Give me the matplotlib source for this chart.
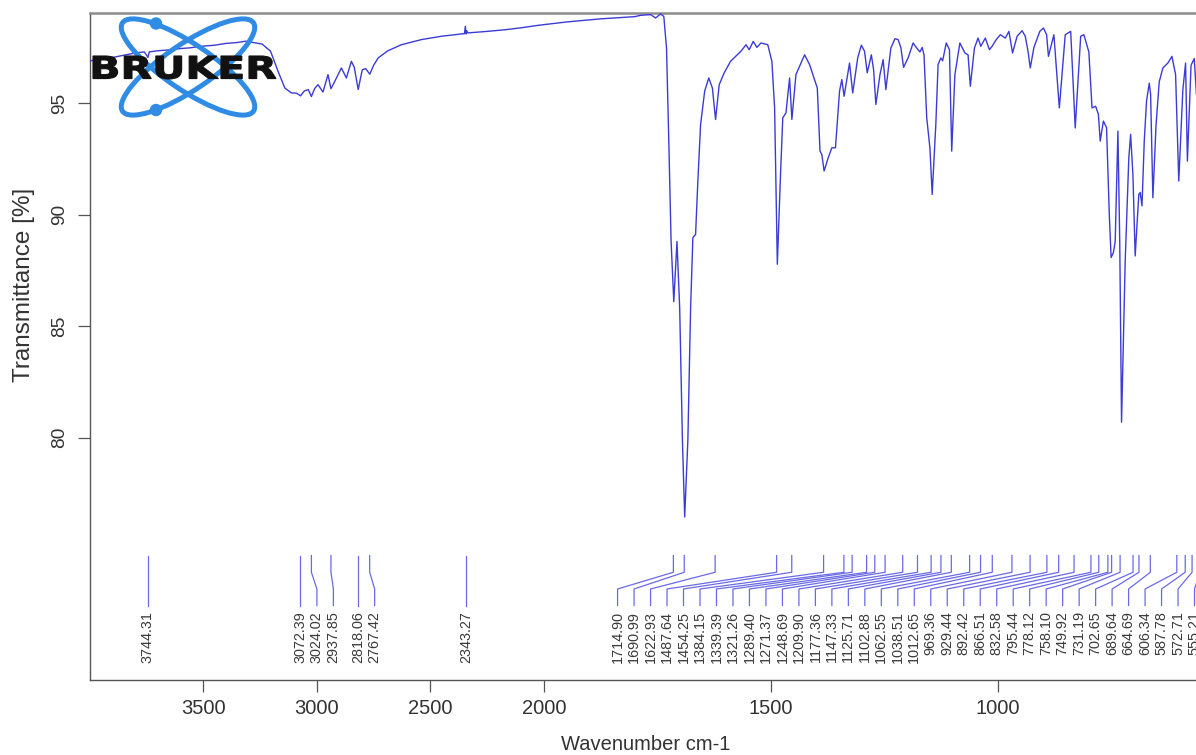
import numpy as np
import matplotlib
matplotlib.use('Agg')
import matplotlib.pyplot as plt
from matplotlib.patches import Ellipse, Circle, PathPatch
from matplotlib.textpath import TextPath
from matplotlib.font_manager import FontProperties
import matplotlib.transforms as mtransforms

plt.rcParams['font.family'] = ['Liberation Sans', 'DejaVu Sans']

#spectrum (wavenumber cm-1, transmittance %)
wavenumber = [4000, 3960, 3900, 3850, 3800, 3760, 3750, 3744, 3738, 3700, 3640, 3600, 3560, 3510,
              3450, 3400, 3350, 3314, 3280, 3241, 3204, 3171, 3141, 3112, 3090, 3072, 3055, 3038,
              3024, 3010, 2995, 2973, 2951, 2938, 2920, 2892, 2870, 2848, 2835, 2818, 2800, 2785,
              2767, 2750, 2730, 2687, 2628, 2540, 2452, 2364, 2350, 2346, 2343, 2340, 2335, 2250,
              2174, 2100, 2026, 1951, 1876, 1800, 1787, 1765, 1754, 1743, 1736,
              1730, 1725, 1720, 1714, 1707, 1701, 1695, 1690, 1683, 1677, 1672, 1666, 1661, 1655,
              1646, 1637, 1629, 1622, 1614, 1603, 1589, 1566, 1555, 1548, 1539, 1531, 1522, 1507,
              1498, 1492, 1486, 1479, 1474, 1467, 1459, 1454, 1445, 1426, 1415, 1404, 1398, 1392,
              1388, 1383, 1374, 1366, 1358, 1349, 1344, 1339, 1327, 1320, 1309, 1301, 1294, 1288,
              1279, 1274, 1269, 1260, 1253, 1247, 1236, 1227, 1220, 1214, 1208, 1198, 1187, 1179,
              1172, 1167, 1163, 1157, 1150, 1145, 1137, 1132, 1126, 1122, 1114, 1107, 1102, 1095,
              1084, 1073, 1066, 1061, 1052, 1044, 1038, 1028, 1019, 1013, 1004, 995, 984, 976,
              968, 958, 947, 940, 934, 929, 921, 908, 900, 893, 889, 877, 865, 852, 840, 830, 818,
              811, 800, 793, 785, 779, 775, 768, 761, 755, 751, 746, 742, 736, 732, 728, 720, 712,
              708, 703, 698, 690, 687, 683, 678, 673, 667, 664, 659, 652, 645, 637, 626, 617, 609,
              602, 593, 587, 583, 575, 568, 563, 558, 540, 500, 400]
transmittance = [96.9, 96.95, 97.05, 97.15, 97.25, 97.3, 97.15, 97.05, 97.3, 97.35, 97.4, 97.45, 97.48, 97.55,
                 97.6, 97.68, 97.72, 97.78, 97.72, 97.65, 97.33, 96.43, 95.68, 95.46, 95.45, 95.33, 95.55, 95.61,
                 95.3, 95.65, 95.83, 95.5, 96.28, 95.65, 96.0, 96.58, 96.13, 96.88, 96.6, 95.61, 96.5, 96.55,
                 96.3, 96.7, 97.03, 97.35, 97.62, 97.85, 98.0, 98.1, 98.12, 98.45, 98.1, 98.25, 98.15, 98.22,
                 98.29, 98.38, 98.49, 98.64, 98.78, 98.88, 98.94, 98.97, 98.82, 99.0, 98.89,
                 97.47, 93.3, 88.83, 86.1, 88.8, 85.8, 79.9, 76.45, 79.9, 85.8, 88.97, 89.12, 91.51, 94.04,
                 95.54, 96.13, 95.68, 94.27, 95.83, 96.36, 96.88, 97.33, 97.62, 97.4, 97.77, 97.5, 97.7, 97.62,
                 96.88, 94.79, 87.78, 91.8, 94.34, 94.57, 96.13, 94.27, 96.28, 97.17, 96.73, 96.06, 95.68, 92.85,
                 92.7, 91.96, 92.55, 93.0, 93.0, 95.54, 96.06, 95.31, 96.8, 95.46, 97.03, 97.6, 97.33, 96.36,
                 97.17, 96.5, 94.94, 96.28, 96.95, 95.61, 97.47, 97.89, 97.85, 97.5, 96.61, 97.03, 97.7, 97.47,
                 97.3, 97.5, 97.17, 94.34, 93.0, 90.91, 94.04, 96.73, 97.03, 96.9, 97.7, 97.4, 92.85, 96.28,
                 97.7, 97.25, 97.17, 95.76, 97.47, 97.92, 97.55, 97.92, 97.4, 97.55, 97.85, 98.07, 97.92, 98.22,
                 97.25, 98.0, 98.25, 98.0, 97.33, 96.58, 97.5, 98.22, 98.37, 98.07, 97.1, 98.07, 94.79, 98.07,
                 98.22, 93.89, 98.0, 98.07, 97.3, 94.79, 94.86, 94.5, 93.3, 94.2, 93.9, 90.02, 88.08, 88.3,
                 88.8, 93.75, 88.8, 80.7, 87.9, 92.55, 93.6, 91.8, 88.15, 90.91, 91.0, 90.4, 93.3, 95.09,
                 95.9, 95.4, 90.76, 94.04, 95.96, 96.58, 96.8, 97.1, 96.28, 91.51, 95.6, 96.8, 92.4, 96.7,
                 97.0, 95.4, 97.0, 96.5, 96.0, 95.5]

#picked peaks as printed under the spectrum
peaks = [3744.31, 3072.39, 3024.02, 2937.85, 2818.06, 2767.42, 2343.27,
         1714.90, 1690.99, 1622.93, 1487.64, 1454.25, 1384.15, 1339.39, 1321.26, 1289.40,
         1271.37, 1248.69, 1209.90, 1177.36, 1147.33, 1125.71, 1102.88, 1062.55, 1038.51,
         1012.65, 969.36, 929.44, 892.42, 866.51, 832.58, 795.44, 778.12, 758.10, 749.92,
         731.19, 702.65, 689.64, 664.69, 606.34, 587.78, 572.71, 555.21]

xticks = [3500, 3000, 2500, 2000, 1500, 1000]
yticks = [80, 85, 90, 95]


#OPUS squeezes everything above 2000 cm-1 by a factor 2
def fwd(w):
    w = np.asarray(w, dtype=float)
    return np.where(w > 2000, 2000 + (w - 2000) / 2.0, w)

def inv(s):
    s = np.asarray(s, dtype=float)
    return np.where(s > 2000, 2000 + (s - 2000) * 2.0, s)


def spread_labels(pk, gap, lowest):
    #peaks sorted high->low wavenumber, work in the squeezed units
    p = fwd(pk)
    x = p.copy()
    for i in range(1, len(x)):
        x[i] = min(p[i], x[i-1] - gap)
    x[-1] = max(x[-1], lowest)
    for i in range(len(x) - 2, -1, -1):
        x[i] = max(x[i], x[i+1] + gap)
    return inv(x)


W, H = 1196, 755
fig = plt.figure(figsize=(W / 100, H / 100), dpi=100)
fig.patch.set_facecolor('white')

#axes box: left at 90px, top 13px, bottom 680px; runs off the right edge like the printout
ax = fig.add_axes([89.8 / W, 75 / H, 1180.7 / W, 666.7 / H])
ax.set_xscale('function', functions=(fwd, inv))
ax.set_xlim(4000, 400)
ax.set_ylim(69.14, 99.03)

ax.plot(wavenumber, transmittance, color='#3b3bd6', lw=1.0, zorder=3)

#peak label leader lines + rotated numbers
lab_x = spread_labels(np.array(peaks), 36.3, 567.3)
y_top, y_k1, y_k2, y_bot, y_txt = 74.72, 73.97, 73.22, 72.48, 72.22
for p, lx in zip(peaks, lab_x):
    ax.plot([p, p, lx, lx], [y_top, y_k1, y_k2, y_bot], color='#6a6ae6', lw=0.9, zorder=2)
    ax.text(lx, y_txt, '%.2f' % p, rotation=90, ha='center', va='top',
            fontsize=10.4, color='#3a3a3a')

ax.set_xticks(xticks)
ax.set_xticklabels([str(t) for t in xticks])
ax.set_yticks(yticks)
ax.tick_params(axis='x', length=8.5, width=0.9, color='#555555', labelsize=14.5,
               labelcolor='#333333', pad=5)
ax.tick_params(axis='y', length=8.3, width=0.9, color='#555555', labelsize=13.8,
               labelcolor='#333333', pad=7)
plt.setp(ax.get_yticklabels(), rotation=90, va='center')

for side in ['left', 'bottom']:
    ax.spines[side].set_color('#555555')
    ax.spines[side].set_linewidth(1.0)
ax.spines['top'].set_color('#8c8c8c')
ax.spines['top'].set_linewidth(1.8)
ax.spines['right'].set_visible(False)

ax.set_xlabel('Wavenumber cm-1', fontsize=14.5, color='#333333')
ax.xaxis.set_label_coords(0.4707, -0.083)
ax.set_ylabel('Transmittance [%]', fontsize=17.5, color='#333333')
ax.yaxis.set_label_coords(-0.0465, 0.5925)

#vendor logo in the top left corner, drawn in pixel units
logo = fig.add_axes([0, 0, 1, 1], zorder=5)
logo.set_xlim(0, W)
logo.set_ylim(H, 0)
logo.axis('off')
logo.patch.set_alpha(0)
blue = '#2f8be3'
for ang in [34, -34]:
    logo.add_patch(Ellipse((188, 67), 158, 46, angle=ang, fill=False, ec=blue, lw=3.6))
logo.add_patch(Circle((156, 23.5), 5.5, color=blue))
logo.add_patch(Circle((156, 110), 5.5, color=blue))

tp = TextPath((0, 0), 'BRUKER', size=1, prop=FontProperties(family='DejaVu Sans', weight='bold'))
ext = tp.get_extents()
tr = mtransforms.Affine2D().translate(-ext.x0, -ext.y0).scale(183 / ext.width, -23 / ext.height).translate(93, 79)
logo.add_patch(PathPatch(tr.transform_path(tp), fc='#111111', ec='#111111', lw=0.8))

fig.savefig('out.png', dpi=100)
